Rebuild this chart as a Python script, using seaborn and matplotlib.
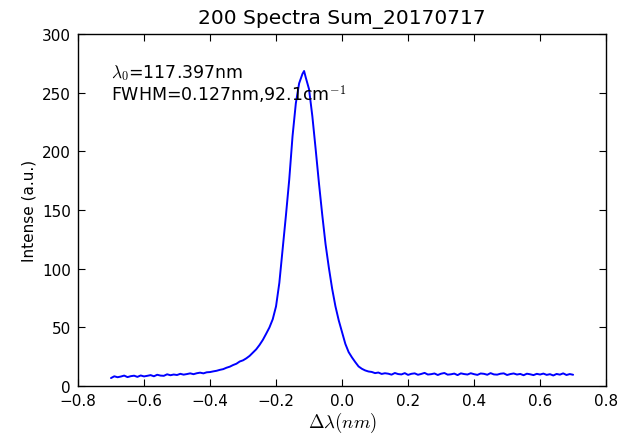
import numpy as np
import pandas as pd
import matplotlib
matplotlib.use("Agg")
import matplotlib.pyplot as plt
import seaborn as sns

# ---- data ----
wavelength_shift = [
    -0.70, -0.69, -0.68, -0.67, -0.66, -0.65, -0.64, -0.63, -0.62, -0.61,
    -0.60, -0.59, -0.58, -0.57, -0.56, -0.55, -0.54, -0.53, -0.52, -0.51,
    -0.50, -0.49, -0.48, -0.47, -0.46, -0.45, -0.44, -0.43, -0.42, -0.41,
    -0.40, -0.39, -0.38, -0.37, -0.36, -0.35, -0.34, -0.33, -0.32, -0.31,
    -0.30, -0.29, -0.28, -0.27, -0.26, -0.25, -0.24, -0.23, -0.22, -0.21,
    -0.20, -0.19, -0.18, -0.17, -0.16, -0.15, -0.14, -0.13, -0.12, -0.115,
    -0.11, -0.10, -0.09, -0.08, -0.07, -0.06, -0.05, -0.04, -0.03, -0.02,
    -0.01, 0.00, 0.01, 0.02, 0.03, 0.04, 0.05, 0.06, 0.07, 0.08,
    0.09, 0.10, 0.11, 0.12, 0.13, 0.14, 0.15, 0.16, 0.17, 0.18,
    0.19, 0.20, 0.21, 0.22, 0.23, 0.24, 0.25, 0.26, 0.27, 0.28,
    0.29, 0.30, 0.31, 0.32, 0.33, 0.34, 0.35, 0.36, 0.37, 0.38,
    0.39, 0.40, 0.41, 0.42, 0.43, 0.44, 0.45, 0.46, 0.47, 0.48,
    0.49, 0.50, 0.51, 0.52, 0.53, 0.54, 0.55, 0.56, 0.57, 0.58,
    0.59, 0.60, 0.61, 0.62, 0.63, 0.64, 0.65, 0.66, 0.67, 0.68,
    0.69, 0.70,
]
intensity = [
    6.9, 8.4, 7.6, 8.2, 9.0, 7.7, 8.5, 8.9, 7.9, 9.1,
    8.3, 8.8, 9.4, 8.4, 9.7, 9.0, 8.8, 10.1, 9.3, 9.9,
    9.5, 10.5, 9.8, 10.3, 10.9, 10.2, 11.0, 11.5, 10.9, 11.8,
    12.0, 12.6, 13.1, 13.9, 14.5, 15.7, 16.6, 18.0, 19.1, 21.0,
    22.0, 23.7, 25.8, 28.6, 31.4, 35.1, 39.4, 44.6, 50.0, 57.0,
    68.0, 88.0, 116.5, 145.5, 176.0, 213.0, 241.0, 258.0, 266.0, 268.5,
    263.0, 253.0, 230.0, 202.0, 173.0, 146.0, 121.0, 101.0, 83.0, 68.0,
    56.0, 46.0, 36.0, 29.0, 24.5, 20.5, 16.8, 14.8, 13.4, 12.5,
    12.1, 11.1, 11.6, 10.4, 11.0, 10.6, 9.8, 11.2, 10.3, 10.0,
    11.1, 9.6, 10.5, 10.9, 9.7, 10.4, 11.3, 9.9, 10.2, 10.8,
    9.5, 10.6, 11.2, 9.8, 10.1, 10.7, 9.4, 10.9, 10.3, 9.9,
    11.0, 10.2, 9.6, 10.8, 10.5, 9.7, 11.1, 10.0, 9.8, 10.6,
    10.9, 9.5, 10.3, 10.8, 9.9, 10.4, 9.3, 10.6, 10.1, 9.4,
    10.5, 9.9, 10.7, 9.6, 10.2, 9.1, 10.4, 9.8, 10.9, 9.5,
    10.3, 9.7,
]

title_text = "200 Spectra Sum_20170717"
line1 = r"$\lambda_0$=117.397nm"
line2 = r"FWHM=0.127nm,92.1cm$^{-1}$"
x_ticks = [-0.8, -0.6, -0.4, -0.2, 0.0, 0.2, 0.4, 0.6, 0.8]
y_ticks = [0, 50, 100, 150, 200, 250, 300]

df = pd.DataFrame({"shift": wavelength_shift, "intensity": intensity})

sns.set_style("ticks")
plt.rcParams["font.family"] = ["DejaVu Sans"]
plt.rcParams["mathtext.fontset"] = "cm"
plt.rcParams["text.color"] = "black"
plt.rcParams["axes.labelcolor"] = "black"

fig = plt.figure(figsize=(6.21, 4.35), dpi=100)
ax = fig.add_axes([0.1256, 0.110, 0.976 - 0.1256, 0.9195 - 0.110])

sns.lineplot(data=df, x="shift", y="intensity", ax=ax, color="blue",
             linewidth=1.4, sort=False, estimator=None)

ax.set_xlim(-0.8, 0.8)
ax.set_ylim(0, 300)
ax.set_xticks(x_ticks)
ax.set_yticks(y_ticks)
ax.set_xticklabels([f"{t:.1f}".replace("-", "\u2212") for t in x_ticks])
ax.set_yticklabels([str(t) for t in y_ticks])
ax.tick_params(direction="in", top=True, right=True, length=5, width=0.8,
               labelsize=11, colors="black", pad=5)
for s in ax.spines.values():
    s.set_color("black")
    s.set_linewidth(1.0)

ax.set_title(title_text, fontsize=14.5, pad=8, color="black")
ax.set_xlabel(r"$\Delta\lambda(nm)$", fontsize=13.5, labelpad=1)
ax.set_ylabel("Intense (a.u.)", fontsize=11)

ax.text(-0.70, 268, line1, fontsize=12.5, va="center", ha="left")
ax.text(-0.70, 249, line2, fontsize=12.5, va="center", ha="left")

fig.savefig("out.png", dpi=100)
